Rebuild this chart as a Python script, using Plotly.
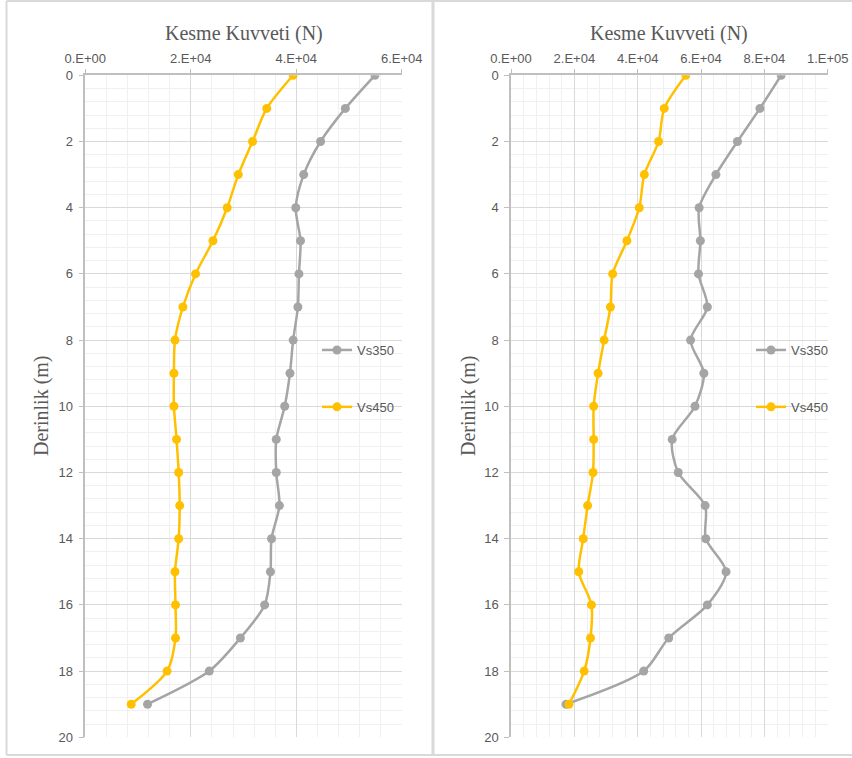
import plotly.graph_objects as go

# ---- data ----
depth = [0, 1, 2, 3, 4, 5, 6, 7, 8, 9, 10, 11, 12, 13, 14, 15, 16, 17, 18, 19]

left_vs350 = [54900, 49300, 44600, 41400, 39900, 40800, 40500, 40300, 39400, 38800,
              37800, 36200, 36200, 36800, 35300, 35100, 34000, 29400, 23500, 11800]
left_vs450 = [39400, 34400, 31700, 29000, 26900, 24200, 20900, 18500, 17000, 16800,
              16800, 17300, 17700, 17900, 17700, 17000, 17100, 17100, 15500, 8700]

right_vs350 = [85300, 78600, 71500, 64700, 59400, 59800, 59200, 62000, 56700, 60900,
               58100, 50900, 52800, 61300, 61500, 67900, 62000, 49800, 41900, 17400]
right_vs450 = [55200, 48400, 46600, 42100, 40500, 36600, 32100, 31400, 29400, 27500,
               26100, 26100, 25900, 24200, 22800, 21400, 25400, 25100, 23100, 18300]

series_names = ["Vs350", "Vs450"]
left_xticks = [0, 20000, 40000, 60000]
left_xlabels = ["0.E+00", "2.E+04", "4.E+04", "6.E+04"]
right_xticks = [0, 20000, 40000, 60000, 80000, 100000]
right_xlabels = ["0.E+00", "2.E+04", "4.E+04", "6.E+04", "8.E+04", "1.E+05"]
y_ticks = [0, 2, 4, 6, 8, 10, 12, 14, 16, 18, 20]
x_title = "Kesme Kuvveti (N)"
y_title = "Derinlik (m)"

# ---- styling ----
W, H = 852, 758
GRAY = "#a5a5a5"
YELLOW = "#ffc000"
TXT = "#595959"
MAJOR = "#d9d9d9"
MINOR = "#f0f0f0"
AXLINE = "#bfbfbf"
TICKFONT = dict(family="Liberation Sans, Arial, sans-serif", size=13, color=TXT)
SERIF = dict(family="Liberation Serif, Times New Roman, serif", size=20, color=TXT)


def px_x(p):
    return p / W


def px_y(p):
    return 1 - p / H


fig = go.Figure()


def add_series(xs, name, color, xa, ya, legend):
    fig.add_trace(go.Scatter(
        x=xs, y=depth, name=name, mode="lines+markers",
        line=dict(color=color, width=2.5, shape="spline", smoothing=0.8),
        marker=dict(color=color, size=9),
        xaxis=xa, yaxis=ya, legend=legend, legendgroup=legend + name,
    ))


add_series(left_vs350, series_names[0], GRAY, "x", "y", "legend")
add_series(left_vs450, series_names[1], YELLOW, "x", "y", "legend")
add_series(right_vs350, series_names[0], GRAY, "x2", "y2", "legend2")
add_series(right_vs450, series_names[1], YELLOW, "x2", "y2", "legend2")

ytop, ybot = 75.3, 737.3
left_x0, left_x1 = 85.3, 401.8
right_x0, right_x1 = 511.0, 827.7


def xaxis_cfg(x0, x1, rng, tv, tt):
    return dict(
        domain=[px_x(x0), px_x(x1)], range=rng, side="top", automargin=False,
        tickmode="array", tickvals=tv, ticktext=tt, tickfont=TICKFONT,
        showgrid=True, gridcolor=MAJOR, gridwidth=1, zeroline=False,
        showline=True, linecolor=AXLINE, linewidth=1.5,
        ticks="outside", ticklen=5, tickcolor=AXLINE,
        minor=dict(tick0=0, dtick=4000, showgrid=True, gridcolor=MINOR, gridwidth=1),
        fixedrange=True,
    )


def yaxis_cfg(anchor):
    return dict(
        domain=[px_y(ybot), px_y(ytop)], range=[20, 0], anchor=anchor, automargin=False,
        tickmode="array", tickvals=y_ticks, ticktext=[str(v) for v in y_ticks],
        tickfont=TICKFONT, showgrid=True, gridcolor=MAJOR, gridwidth=1,
        zeroline=False, showline=True, linecolor=AXLINE, linewidth=1.5,
        ticks="outside", ticklen=5, tickcolor=AXLINE, ticklabelstandoff=3,
        minor=dict(tick0=0, dtick=0.4, showgrid=True, gridcolor=MINOR, gridwidth=1),
        fixedrange=True,
    )


fig.update_layout(
    width=W, height=H,
    margin=dict(l=0, r=0, t=0, b=0, autoexpand=False),
    paper_bgcolor="white", plot_bgcolor="white",
    xaxis=xaxis_cfg(left_x0, left_x1, [0, 60000], left_xticks, left_xlabels) | dict(anchor="y"),
    yaxis=yaxis_cfg("x"),
    xaxis2=xaxis_cfg(right_x0, right_x1, [0, 100000], right_xticks, right_xlabels) | dict(anchor="y2"),
    yaxis2=yaxis_cfg("x2"),
    legend=dict(x=px_x(317), y=px_y(335), xanchor="left", yanchor="top",
                bgcolor="rgba(0,0,0,0)", font=TICKFONT, tracegroupgap=37,
                traceorder="grouped", itemwidth=30),
    legend2=dict(x=px_x(751), y=px_y(335), xanchor="left", yanchor="top",
                 bgcolor="rgba(0,0,0,0)", font=TICKFONT, tracegroupgap=37,
                 traceorder="grouped", itemwidth=30),
    showlegend=True,
)

# titles
for cx in [(left_x0 + left_x1) / 2, (right_x0 + right_x1) / 2]:
    fig.add_annotation(text=x_title, x=px_x(cx), y=px_y(33), xref="paper", yref="paper",
                       showarrow=False, font=SERIF, xanchor="center", yanchor="middle")
for cx in [41, 468]:
    fig.add_annotation(text=y_title, x=px_x(cx), y=px_y(406), xref="paper", yref="paper",
                       showarrow=False, font=SERIF, textangle=-90,
                       xanchor="center", yanchor="middle")

# outer chart frames
frame = dict(color="#d9d9d9", width=2)
fig.add_shape(type="line", xref="paper", yref="paper", x0=px_x(6.5), x1=1, y0=px_y(1), y1=px_y(1), line=frame)
fig.add_shape(type="line", xref="paper", yref="paper", x0=px_x(6.5), x1=1, y0=px_y(755), y1=px_y(755), line=frame)
fig.add_shape(type="line", xref="paper", yref="paper", x0=px_x(6.5), x1=px_x(6.5), y0=px_y(1), y1=px_y(755), line=frame)
fig.add_shape(type="line", xref="paper", yref="paper", x0=px_x(433), x1=px_x(433), y0=px_y(1), y1=px_y(755),
              line=dict(color="#d9d9d9", width=3))

fig.write_html("out.html", config={"displayModeBar": False},
               post_script="document.body.style.margin='0';document.body.style.overflow='hidden';")
